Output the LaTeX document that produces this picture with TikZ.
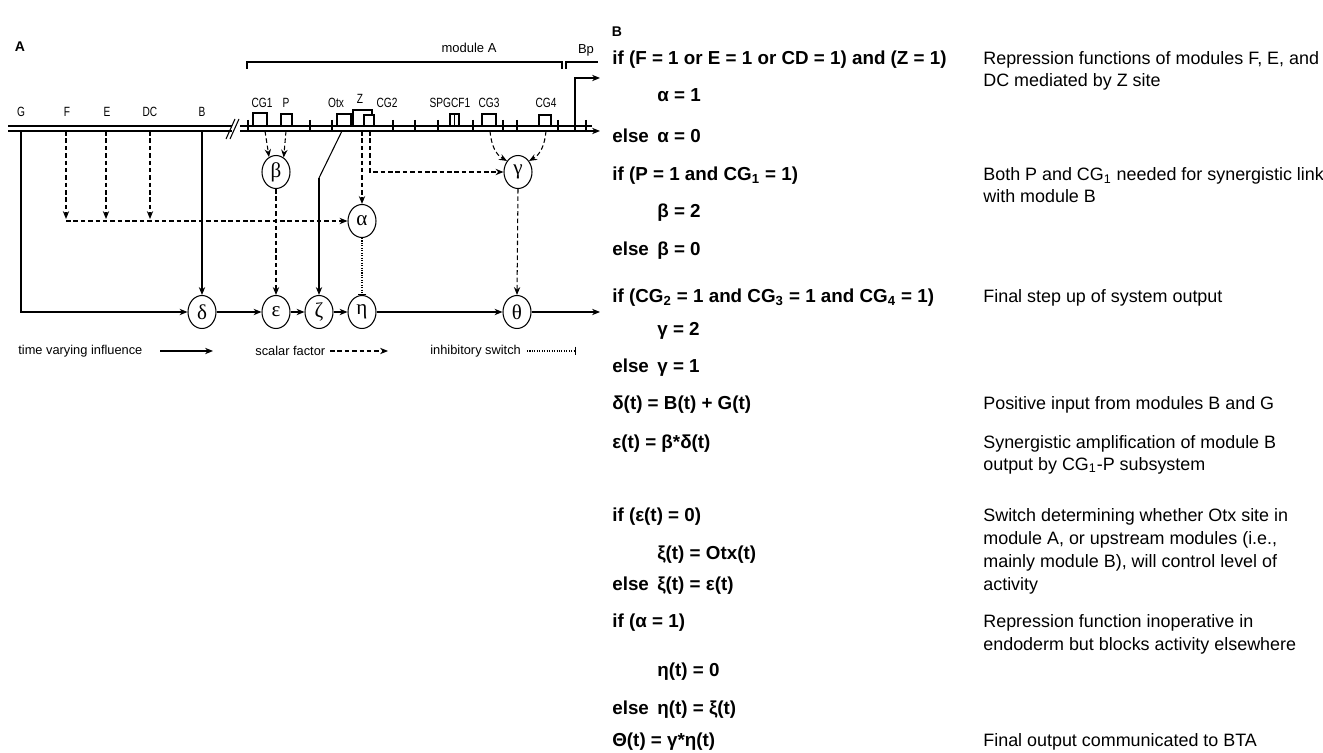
\documentclass[tikz,border=0pt]{standalone}
\usepackage{fontspec}
\setmainfont{Liberation Sans}
\newfontfamily\narrowsf{Liberation Sans}[FakeStretch=0.76]
\newfontfamily\grk{Liberation Serif}
\usetikzlibrary{arrows.meta,shapes.geometric}
\tikzset{
  ln/.style={line width=0.6pt},
  sol/.style={ln,-{Stealth[length=4.5pt,width=3.6pt]}},
  dsh/.style={sol,dash pattern=on 2.6pt off 1.6pt},
  inh/.style={ln,dash pattern=on 0.6pt off 0.8pt,-{Bar[width=5pt]}},
  circ/.style={ellipse,draw,line width=0.6pt,minimum width=0.56cm,minimum height=0.66cm,inner sep=0pt,font=\grk\fontsize{12}{12}\selectfont},
  site/.style={draw,line width=0.6pt,fill=white},
  lbl/.style={font=\narrowsf\fontsize{7.6}{8}\selectfont,inner sep=0pt},
  leg/.style={font=\fontsize{7.3}{8}\selectfont,inner sep=0pt,anchor=west},
  bt/.style={font=\bfseries\fontsize{10.7}{12}\selectfont,inner sep=0pt,anchor=base west},
  dt/.style={font=\fontsize{10.2}{12}\selectfont,inner sep=0pt,anchor=base west}
}
\begin{document}
\begin{tikzpicture}[x=0.02cm,y=-0.02cm]
\useasboundingbox (0,0) rectangle (1323,753);
% ---------------- Panel A ----------------
\node[font=\bfseries\fontsize{8}{9}\selectfont,inner sep=0pt] (labA) at (20,47) {A};
% DNA
\coordinate (dlt0) at (8,126); \coordinate (dlt1) at (232,126);
\coordinate (dlb0) at (8,131); \coordinate (dlb1) at (232,131);
\coordinate (drt0) at (240,126); \coordinate (drt1) at (592,126);
\coordinate (drb0) at (240,131); \coordinate (drb1) at (600,131);
\draw[ln] (dlt0) -- (dlt1); \draw[ln] (dlb0) -- (dlb1);
\draw[ln] (drt0) -- (drt1); \draw[sol] (drb0) -- (drb1);
\draw[ln] (226,139) -- (235,119); \draw[ln] (230,139) -- (239,119);
\foreach \x in {248,310,332,393,415,438,473,503,517,558,586}
  \draw[ln] (\x,120) -- (\x,131);
% sites
\draw[site] (253,113) rectangle (267,126);
\draw[site] (281,114) rectangle (292,126);
\draw[site] (337,114) rectangle (351,126);
\draw[site] (353,110) rectangle (372,126);
\draw[site] (364,115) rectangle (374,126);
\draw[site] (450,114) rectangle (459,126); \draw[ln] (454.5,114) -- (454.5,126);
\draw[site] (482,114) rectangle (496,126);
\draw[site] (539,115) rectangle (551,126);
% labels
\node[lbl] (lG) at (21,112) {G};
\node[lbl] (lF) at (67,112) {F};
\node[lbl] (lE) at (107,112) {E};
\node[lbl] (lDC) at (150,112) {DC};
\node[lbl] (lB) at (202,112) {B};
\node[lbl] (lCG1) at (262,103) {CG1};
\node[lbl] (lP) at (286,103) {P};
\node[lbl] (lOtx) at (336,103) {Otx};
\node[lbl] (lZ) at (360,99) {Z};
\node[lbl] (lCG2) at (387,103) {CG2};
\node[lbl] (lSP) at (450,103) {SPGCF1};
\node[lbl] (lCG3) at (489,103) {CG3};
\node[lbl] (lCG4) at (546,103) {CG4};
% module A bracket, Bp
\node[font=\fontsize{7.4}{8}\selectfont,inner sep=0pt] (modA) at (469,48) {module A};
\draw[ln] (247,69) -- (247,62) -- (562,62) -- (562,69);
\node[font=\fontsize{7.4}{8}\selectfont,inner sep=0pt] (Bp) at (586,50) {Bp};
\draw[ln] (566,69) -- (566,62) -- (598,62);
\coordinate (prom) at (575,131); \coordinate (promE) at (600,78);
\draw[sol] (prom) |- (promE);
% circles
\node[circ] (beta) at (276,172) {β};
\node[circ] (gamma) at (518,172) {γ};
\node[circ] (alpha) at (362,221) {α};
\node[circ] (delta) at (202,312) {δ};
\node[circ] (eps) at (276,312) {ε};
\node[circ] (zeta) at (319,312) {ζ};
\node[circ] (eta) at (362,312) {η};
\node[circ] (theta) at (517,312) {θ};
\coordinate (out) at (600,312);
% taps
\coordinate (tG) at (21,131);
\coordinate (tF) at (66,131); \coordinate (aF) at (66,219);
\coordinate (tE) at (106,131); \coordinate (aE) at (106,219);
\coordinate (tDC) at (150,131); \coordinate (aDC) at (150,219);
\coordinate (hL) at (66,221);
\coordinate (tB) at (202,131);
\coordinate (tCG1) at (265,131);
\coordinate (tP) at (286,131);
\coordinate (tOtx) at (342,131); \coordinate (kOtx) at (319,178);
\coordinate (tZ) at (362,131);
\coordinate (tCG2) at (370,131);
\coordinate (tCG3) at (490,131);
\coordinate (tCG4) at (546,131);
% connectors
\draw[sol] (tG) |- (delta.west);
\draw[sol] (tB) -- (delta.north);
\draw[dsh] (tF) -- (aF);
\draw[dsh] (tE) -- (aE);
\draw[dsh] (tDC) -- (aDC);
\draw[dsh] (hL) -- (alpha.west);
\draw[dsh] (tCG1) -- (beta.115);
\draw[dsh] (tP) -- (beta.62);
\draw[ln] (tOtx) -- (kOtx);
\draw[sol] (kOtx) -- (zeta.north);
\draw[dsh,line width=1pt] (tZ) -- (alpha.north);
\draw[dsh] (tCG2) |- (gamma.west);
\draw[dsh] (tCG3) to[out=-85,in=150] (gamma.135);
\draw[dsh] (tCG4) to[out=-95,in=30] (gamma.45);
\draw[dsh] (beta.south) -- (eps.north);
\draw[dsh] (gamma.south) -- (theta.north);
\draw[inh] (alpha.south) -- (eta.north);
\draw[sol] (delta) -- (eps);
\draw[sol] (eps) -- (zeta);
\draw[sol] (zeta) -- (eta);
\draw[sol] (eta) -- (theta);
\draw[sol] (theta) -- (out);
% legend
\node[leg] (lg1) at (18,351) {time varying influence};
\coordinate (lg1a) at (160,351); \coordinate (lg1b) at (213,351);
\draw[sol] (lg1a) -- (lg1b);
\node[leg] (lg2) at (255,351) {scalar factor};
\coordinate (lg2a) at (330,351); \coordinate (lg2b) at (388,351);
\draw[dsh] (lg2a) -- (lg2b);
\node[leg] (lg3) at (430,351) {inhibitory switch};
\coordinate (lg3a) at (527,351); \coordinate (lg3b) at (576,351);
\draw[inh] (lg3a) -- (lg3b);
% ---------------- Panel B ----------------
\node[font=\bfseries\fontsize{8}{9}\selectfont,inner sep=0pt] (labB) at (617,32) {B};
\node[bt] (c1) at (612,65) {if (F = 1 or E = 1 or CD = 1) and (Z = 1)};
\node[bt] (c2) at (657,102) {α = 1};
\node[bt] (c3e) at (612,143) {else};
\node[bt] (c3) at (657,143) {α = 0};
\node[bt] (c4) at (612,181) {if (P = 1 and CG\textsubscript{1} = 1)};
\node[bt] (c5) at (657,218) {β = 2};
\node[bt] (c6e) at (612,256) {else};
\node[bt] (c6) at (657,256) {β = 0};
\node[bt] (c7) at (612,303) {if (CG\textsubscript{2} = 1 and CG\textsubscript{3} = 1 and CG\textsubscript{4} = 1)};
\node[bt] (c8) at (657,336) {γ = 2};
\node[bt] (c9e) at (612,373) {else};
\node[bt] (c9) at (657,373) {γ = 1};
\node[bt] (c10) at (612,410) {δ(t) = B(t) + G(t)};
\node[bt] (c11) at (612,448) {ε(t) = β*δ(t)};
\node[bt] (c12) at (612,521) {if (ε(t) = 0)};
\node[bt] (c13) at (657,559) {ξ(t) = Otx(t)};
\node[bt] (c14e) at (612,590) {else};
\node[bt] (c14) at (657,590) {ξ(t) = ε(t)};
\node[bt] (c15) at (612,627) {if (α = 1)};
\node[bt] (c16) at (657,676) {η(t) = 0};
\node[bt] (c17e) at (612,714) {else};
\node[bt] (c17) at (657,714) {η(t) = ξ(t)};
\node[bt] (c18) at (612,746) {Θ(t) = γ*η(t)};
% descriptions
\node[dt] (d1a) at (983,65) {Repression functions of modules F, E, and};
\node[dt] (d1b) at (983,87) {DC mediated by Z site};
\node[dt] (d2a) at (983,181) {Both P and CG\textsubscript{1} needed for synergistic link};
\node[dt] (d2b) at (983,203) {with module B};
\node[dt] (d3) at (983,303) {Final step up of system output};
\node[dt] (d4) at (983,410) {Positive input from modules B and G};
\node[dt] (d5a) at (983,448) {Synergistic amplification of module B};
\node[dt] (d5b) at (983,470) {output by CG\textsubscript{1}-P subsystem};
\node[dt] (d6a) at (983,521) {Switch determining whether Otx site in};
\node[dt] (d6b) at (983,544) {module A, or upstream modules (i.e.,};
\node[dt] (d6c) at (983,567) {mainly module B), will control level of};
\node[dt] (d6d) at (983,590) {activity};
\node[dt] (d7a) at (983,627) {Repression function inoperative in};
\node[dt] (d7b) at (983,650) {endoderm but blocks activity elsewhere};
\node[dt] (d8) at (983,746) {Final output communicated to BTA};
\end{tikzpicture}
\end{document}
